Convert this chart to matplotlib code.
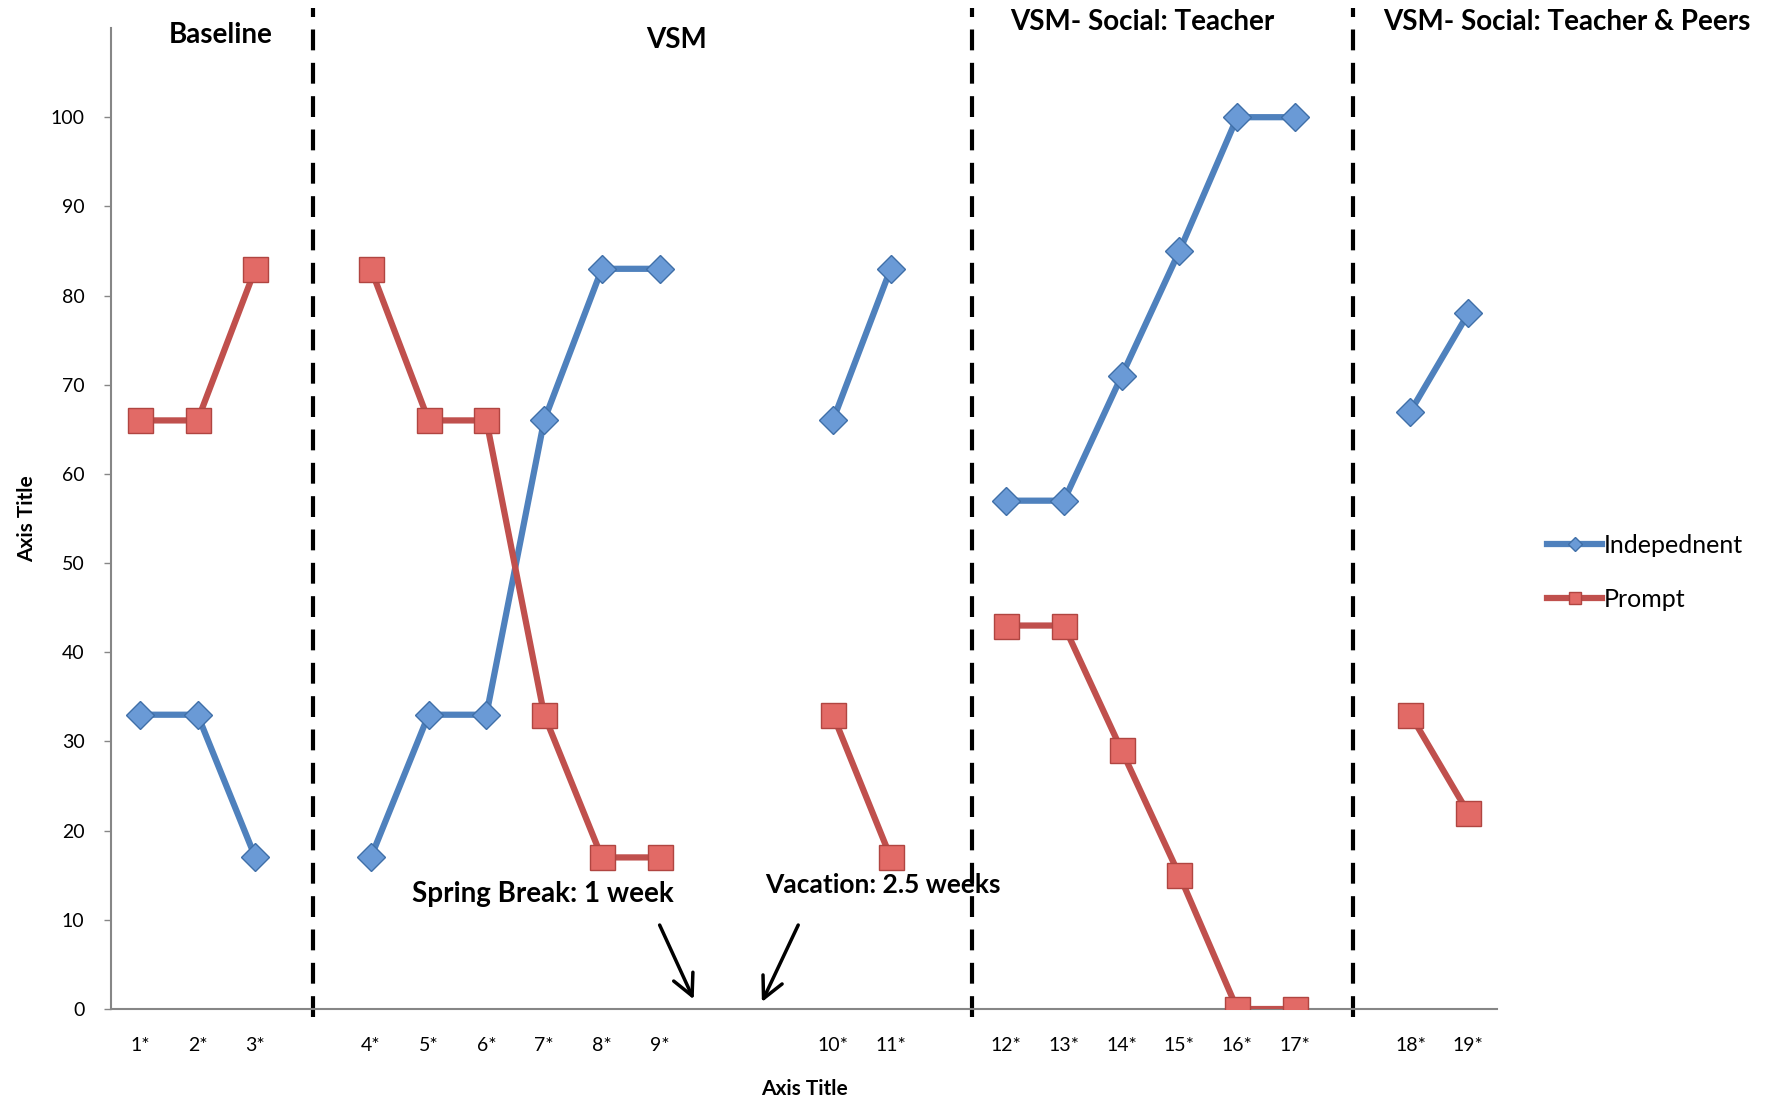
import numpy as np
import matplotlib
matplotlib.use('Agg')
import matplotlib.pyplot as plt

plt.rcParams['font.family'] = ['Lato', 'DejaVu Sans']

# one slot per category position, '' = empty slot (breaks / phase gaps)
sessions = ['1*', '2*', '3*', '', '4*', '5*', '6*', '7*', '8*', '9*', '', '',
            '10*', '11*', '', '12*', '13*', '14*', '15*', '16*', '17*', '',
            '18*', '19*']
independent = [33, 33, 17, None, 17, 33, 33, 66, 83, 83, None, None,
               66, 83, None, 57, 57, 71, 85, 100, 100, None, 67, 78]
prompt = [66, 66, 83, None, 83, 66, 66, 33, 17, 17, None, None,
          33, 17, None, 43, 43, 29, 15, 0, 0, None, 33, 22]

phase_lines = [3, 14.4, 21]
phase_names = ['Baseline', 'VSM', 'VSM- Social: Teacher', 'VSM- Social: Teacher & Peers']
phase_title_x = [1.4, 9.3, 17.35, 24.7]
phase_title_y = [109.2, 108.7, 110.7, 110.7]

blue = '#4F81BD'
red = '#C0504D'
grey = '#868686'

def to_arr(v):
    return np.array([np.nan if a is None else a for a in v], dtype=float)

x = np.arange(len(sessions))

fig = plt.figure(figsize=(17.81, 11.03), dpi=100)
ax = fig.add_axes([0.0623, 0.0852, 0.7783, 0.8894])

ax.plot(x, to_arr(independent), color=blue, lw=4.5, marker='D', markersize=14,
        markerfacecolor='#6A9AD6', markeredgecolor='#3F6FA8', markeredgewidth=1,
        label='Indepednent', zorder=3)
ax.plot(x, to_arr(prompt), color=red, lw=4.5, marker='s', markersize=18,
        markerfacecolor='#E26A66', markeredgecolor='#B04541', markeredgewidth=1,
        label='Prompt', zorder=3)

for px in phase_lines:
    ax.axvline(px, ymin=-0.008, ymax=1.02, color='black', lw=3,
               linestyle=(0, (5, 3)), clip_on=False, zorder=2)

for name, tx, ty in zip(phase_names, phase_title_x, phase_title_y):
    ax.text(tx, ty, name, ha='center', va='center', fontsize=20,
            fontweight='bold', clip_on=False)

# break annotations
ax.annotate('', xy=(9.61, 0.8), xytext=(8.98, 9.7),
            arrowprops=dict(arrowstyle='->', color='black', lw=2.5,
                            mutation_scale=38))
ax.annotate('', xy=(10.75, 0.5), xytext=(11.42, 9.7),
            arrowprops=dict(arrowstyle='->', color='black', lw=2.5,
                            mutation_scale=38))
ax.text(6.98, 12.9, 'Spring Break: 1 week', ha='center', va='center',
        fontsize=20, fontweight='bold')
ax.text(12.86, 13.9, 'Vacation: 2.5 weeks', ha='center', va='center',
        fontsize=19, fontweight='bold')

ax.set_xlim(-0.5, len(sessions) - 0.5)
ax.set_ylim(0, 110)
ax.set_xticks(x)
ax.set_xticklabels(sessions, fontsize=14)
ax.set_yticks(np.arange(0, 101, 10))
ax.tick_params(axis='x', length=0, pad=20)
ax.tick_params(axis='y', length=5, width=1, color=grey, labelsize=14, pad=14)

for s in ['top', 'right']:
    ax.spines[s].set_visible(False)
for s in ['left', 'bottom']:
    ax.spines[s].set_color(grey)
    ax.spines[s].set_linewidth(1.5)

ax.set_xlabel('Axis Title', fontsize=15, fontweight='bold', labelpad=18)
ax.set_ylabel('Axis Title', fontsize=15, fontweight='bold', labelpad=10)

ax.legend(loc='center left', bbox_to_anchor=(1.02, 0.445), frameon=False,
          fontsize=18, handlelength=2.2, handletextpad=0.05, labelspacing=1.25,
          markerscale=0.5)

fig.savefig('out.png', dpi=100)
